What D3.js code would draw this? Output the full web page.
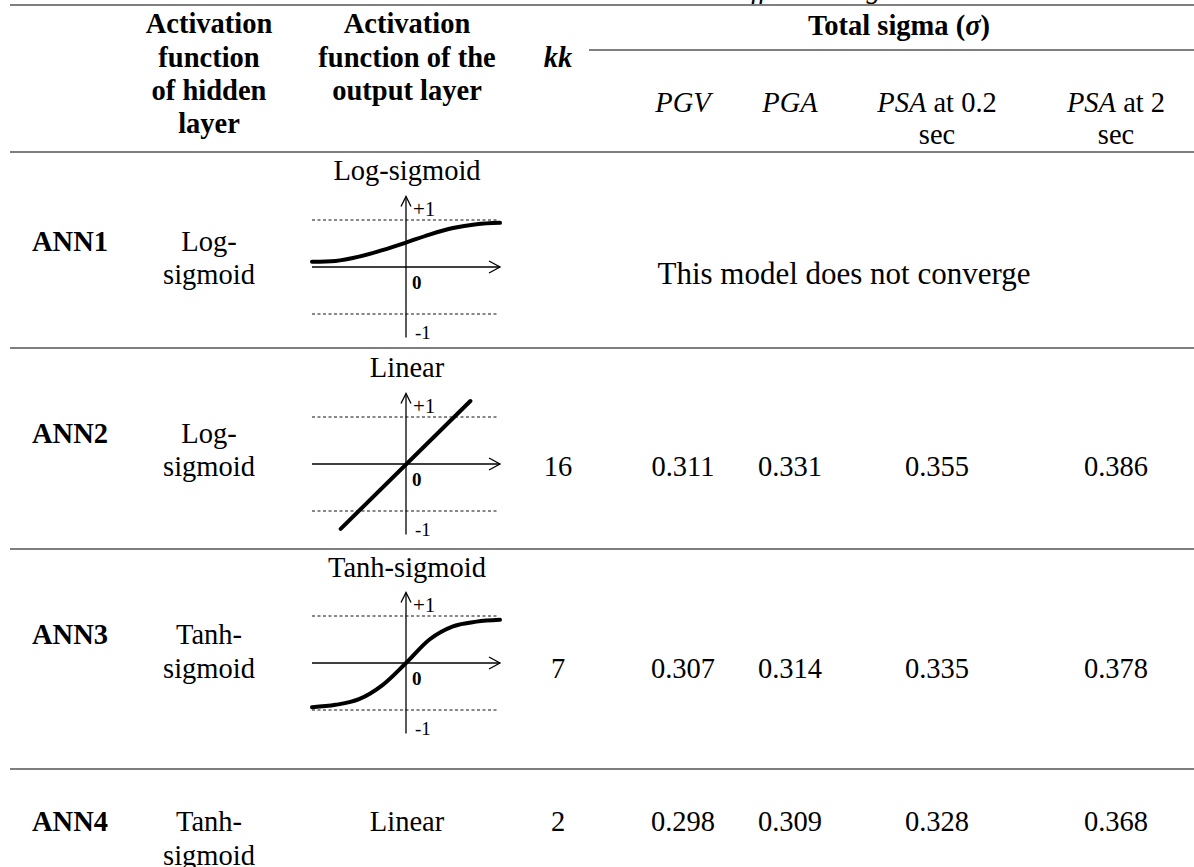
<!DOCTYPE html>
<html>
<head>
<meta charset="utf-8">
<script src="https://cdn.jsdelivr.net/npm/d3@7"></script>
<style>
  html, body { margin: 0; padding: 0; background: #fff; }
  svg { display: block; font-family: "Liberation Serif", "Times New Roman", serif; }
</style>
</head>
<body>
<svg id="chart" width="1194" height="867"></svg>
<script>
// ---------------- data ----------------
const models = ["ANN1", "ANN2", "ANN3", "ANN4"];
const hiddenActivation = [["Log-", "sigmoid"], ["Log-", "sigmoid"], ["Tanh-", "sigmoid"], ["Tanh-", "sigmoid"]];
const outputActivation = ["Log-sigmoid", "Linear", "Tanh-sigmoid", "Linear"];
const kkValues = [null, 16, 7, 2];
const sigmaHeaders = [
  { it: "PGV", rest: "", line2: "" },
  { it: "PGA", rest: "", line2: "" },
  { it: "PSA", rest: " at 0.2", line2: "sec" },
  { it: "PSA", rest: " at 2", line2: "sec" }
];
const pgvSigma   = [null, 0.311, 0.307, 0.298];
const pgaSigma   = [null, 0.331, 0.314, 0.309];
const psa02Sigma = [null, 0.355, 0.335, 0.328];
const psa2Sigma  = [null, 0.386, 0.378, 0.368];
const noConvergeText = "This model does not converge";
// activation sketches (x, y)
const logSigmoidCurve  = [[-2, 0.11], [-1.5, 0.13], [-1, 0.22], [-0.5, 0.36], [0, 0.52], [0.5, 0.69], [1, 0.83], [1.5, 0.91], [2, 0.94]];
const linearCurve      = [[-1.39, -1.38], [1.37, 1.34]];
const tanhSigmoidCurve = [[-2, -0.94], [-1.5, -0.89], [-1, -0.77], [-0.5, -0.47], [0, 0], [0.5, 0.5], [1, 0.78], [1.5, 0.88], [2, 0.92]];
const axisTicks = ["+1", "0", "-1"];

// ---------------- layout ----------------
const svg = d3.select("#chart");
const W = 1194;
const FS = 28.5;
const ruleColor = "#7f7f7f";
const colX = { model: 70, hidden: 209, output: 407, kk: 558, pgv: 683, pga: 790, psa02: 937, psa2: 1116 };
const sigmaX = [colX.pgv, colX.pga, colX.psa02, colX.psa2];
const sigmaData = [pgvSigma, pgaSigma, psa02Sigma, psa2Sigma];
const rowLines = [5, 152, 348, 549, 769];
const rowFirstBase = [251, 443, 644, 831];
const rowSecondBase = [284, 476, 678, 865];
const valueBase = [284, 476, 678, 831];
const plotAxisY = [267, 464, 663];
const fmt = d3.format(".3f");

// clipped caption fragment above the top rule
svg.append("text").attr("x", 729).attr("y", -2)
  .attr("font-size", FS).attr("font-style", "italic").text("different magnitudes");

// rules
svg.selectAll("line.rule").data(rowLines).join("line")
  .attr("class", "rule").attr("x1", 10).attr("x2", W)
  .attr("y1", d => d).attr("y2", d => d)
  .attr("stroke", ruleColor).attr("stroke-width", 2);
svg.append("line").attr("x1", 589).attr("x2", W).attr("y1", 50).attr("y2", 50)
  .attr("stroke", ruleColor).attr("stroke-width", 2);

// header
function lines(x, bases, arr, weight) {
  arr.forEach((t, i) => {
    svg.append("text").attr("x", x).attr("y", bases[i]).attr("text-anchor", "middle")
      .attr("font-size", FS).attr("font-weight", weight).text(t);
  });
}
lines(colX.hidden, [33, 67, 100, 133], ["Activation", "function", "of hidden", "layer"], "bold");
lines(colX.output, [33, 67, 100], ["Activation", "function of the", "output layer"], "bold");
svg.append("text").attr("x", colX.kk).attr("y", 67).attr("text-anchor", "middle")
  .attr("font-size", FS).attr("font-weight", "bold").attr("font-style", "italic").text("kk");

const ts = svg.append("text").attr("x", 899).attr("y", 35).attr("text-anchor", "middle")
  .attr("font-size", FS).attr("font-weight", "bold");
ts.append("tspan").text("Total sigma (");
ts.append("tspan").attr("font-style", "italic").text("σ");
ts.append("tspan").text(")");

sigmaHeaders.forEach((h, i) => {
  const t = svg.append("text").attr("x", sigmaX[i]).attr("y", 112).attr("text-anchor", "middle").attr("font-size", FS);
  t.append("tspan").attr("font-style", "italic").text(h.it);
  if (h.rest) t.append("tspan").text(h.rest);
  if (h.line2) svg.append("text").attr("x", sigmaX[i]).attr("y", 144).attr("text-anchor", "middle")
    .attr("font-size", FS).text(h.line2);
});

// body rows
models.forEach((m, i) => {
  svg.append("text").attr("x", colX.model).attr("y", rowFirstBase[i]).attr("text-anchor", "middle")
    .attr("font-size", FS).attr("font-weight", "bold").text(m);
  svg.append("text").attr("x", colX.hidden).attr("y", rowFirstBase[i]).attr("text-anchor", "middle")
    .attr("font-size", FS).text(hiddenActivation[i][0]);
  svg.append("text").attr("x", colX.hidden).attr("y", rowSecondBase[i]).attr("text-anchor", "middle")
    .attr("font-size", FS).text(hiddenActivation[i][1]);
  if (kkValues[i] !== null) {
    svg.append("text").attr("x", colX.kk).attr("y", valueBase[i]).attr("text-anchor", "middle")
      .attr("font-size", FS).text(kkValues[i]);
    sigmaData.forEach((arr, j) => {
      svg.append("text").attr("x", sigmaX[j]).attr("y", valueBase[i]).attr("text-anchor", "middle")
        .attr("font-size", FS).text(fmt(arr[i]));
    });
  } else {
    svg.append("text").attr("x", 844).attr("y", valueBase[i]).attr("text-anchor", "middle")
      .attr("font-size", 31).text(noConvergeText);
  }
});

// output activation: title + sketch (rows 0..2), plain text (row 3)
const sketchTitleBase = [180, 377, 577];
const curves = [logSigmoidCurve, linearCurve, tanhSigmoidCurve];
const curveType = [d3.curveMonotoneX, d3.curveLinear, d3.curveMonotoneX];
outputActivation.forEach((name, i) => {
  if (i > 2) {
    svg.append("text").attr("x", colX.output).attr("y", rowFirstBase[i]).attr("text-anchor", "middle")
      .attr("font-size", FS).text(name);
    return;
  }
  svg.append("text").attr("x", colX.output).attr("y", sketchTitleBase[i]).attr("text-anchor", "middle")
    .attr("font-size", FS).text(name);
  const cy = plotAxisY[i];
  const x = d3.scaleLinear().domain([-2, 2]).range([312, 500]);
  const y = d3.scaleLinear().domain([-1.5, 1.5]).range([cy + 70.5, cy - 70.5]);
  const g = svg.append("g");
  // dashed bounds
  [1, -1].forEach(v => {
    g.append("line").attr("x1", x(-2)).attr("x2", x(1.96)).attr("y1", y(v)).attr("y2", y(v))
      .attr("stroke", "#111").attr("stroke-width", 1).attr("stroke-dasharray", "3,2.5");
  });
  // x axis with open arrowhead
  g.append("line").attr("x1", x(-2)).attr("x2", x(2)).attr("y1", y(0)).attr("y2", y(0))
    .attr("stroke", "#000").attr("stroke-width", 1.3);
  g.append("path").attr("d", `M${x(2) - 11},${y(0) - 6} L${x(2)},${y(0)} L${x(2) - 11},${y(0) + 6}`)
    .attr("fill", "none").attr("stroke", "#000").attr("stroke-width", 1.3);
  // y axis with open arrowhead
  g.append("line").attr("x1", x(0)).attr("x2", x(0)).attr("y1", y(1.5)).attr("y2", y(-1.5))
    .attr("stroke", "#000").attr("stroke-width", 1.3);
  g.append("path").attr("d", `M${x(0) - 5},${y(1.5) + 10} L${x(0)},${y(1.5)} L${x(0) + 5},${y(1.5) + 10}`)
    .attr("fill", "none").attr("stroke", "#000").attr("stroke-width", 1.3);
  // tick labels
  g.append("text").attr("x", x(0) + 7).attr("y", y(1) - 4).attr("font-size", 21).text(axisTicks[0]);
  g.append("text").attr("x", x(0) + 6).attr("y", y(0) + 22).attr("font-size", 19).attr("font-weight", "bold").text(axisTicks[1]);
  g.append("text").attr("x", x(0) + 9).attr("y", y(-1) + 25).attr("font-size", 19).text(axisTicks[2]);
  // curve
  g.append("path").datum(curves[i])
    .attr("d", d3.line().x(d => x(d[0])).y(d => y(d[1])).curve(curveType[i]))
    .attr("fill", "none").attr("stroke", "#000").attr("stroke-width", 4).attr("stroke-linecap", "round");
});
</script>
</body>
</html>
